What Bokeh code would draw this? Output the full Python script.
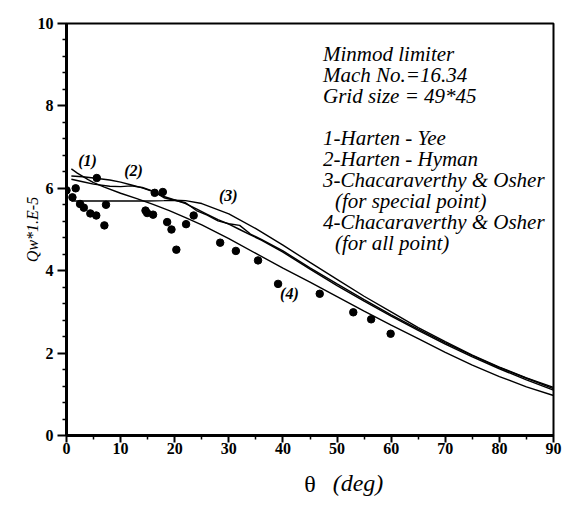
from math import pi
from bokeh.plotting import figure
from bokeh.models import Range1d, FixedTicker, Label, LinearAxis
from bokeh.embed import file_html
from bokeh.resources import INLINE

# ---- data ----
pts_x = [0.0, 1.1, 1.7, 2.5, 3.2, 4.4, 5.5, 5.6, 7.0, 7.3, 14.6, 14.9, 16.0, 16.3,
         17.8, 18.6, 19.4, 20.3, 22.1, 23.5, 28.4, 31.3, 35.4, 39.1, 46.8, 53.0, 56.3, 59.9]
pts_y = [5.95, 5.78, 6.00, 5.62, 5.53, 5.39, 5.34, 6.25, 5.10, 5.60, 5.46, 5.40, 5.36, 5.89,
         5.91, 5.18, 5.00, 4.51, 5.13, 5.34, 4.68, 4.48, 4.25, 3.68, 3.44, 2.99, 2.82, 2.47]

c1_x = [0.9, 2, 3, 4, 5, 7, 10, 13, 16, 19, 22, 25, 30, 35, 40, 45, 50, 55, 60, 65, 70, 75, 80, 85, 90]
c1_y = [6.47, 6.37, 6.29, 6.21, 6.14, 6.03, 5.88, 5.75, 5.61, 5.46, 5.29, 5.11, 4.78, 4.42, 4.06,
        3.72, 3.37, 3.02, 2.68, 2.35, 2.02, 1.71, 1.43, 1.18, 0.97]

c2_x = [0.9, 3, 5, 8, 10, 12, 14, 16, 18, 20, 22, 24, 26, 28, 30, 32, 34, 36, 40, 45, 50, 55,
        60, 65, 70, 75, 80, 85, 90]
c2_y = [6.30, 6.28, 6.25, 6.20, 6.15, 6.08, 6.01, 5.92, 5.80, 5.72, 5.63, 5.50, 5.37, 5.24, 5.13,
        5.00, 4.87, 4.74, 4.45, 4.04, 3.64, 3.26, 2.90, 2.55, 2.22, 1.91, 1.62, 1.35, 1.10]

c4_x = [0.9, 3, 5, 8, 10, 12, 14, 16, 18, 20, 22, 24, 26, 28, 30, 32, 34, 36, 40, 45, 50, 55,
        60, 65, 70, 75, 80, 85, 90]
c4_y = [6.22, 6.16, 6.10, 6.05, 6.04, 6.06, 6.02, 5.93, 5.77, 5.71, 5.65, 5.46, 5.35, 5.21, 5.14,
        5.10, 4.89, 4.76, 4.48, 4.07, 3.68, 3.30, 2.93, 2.58, 2.25, 1.94, 1.65, 1.39, 1.14]

c3_x = [0.9, 5, 10, 15, 18, 20, 22, 25, 30, 35, 40, 45, 50, 55, 60, 65, 70, 75, 80, 85, 90]
c3_y = [5.69, 5.69, 5.69, 5.69, 5.70, 5.71, 5.70, 5.63, 5.38, 5.02, 4.62, 4.20, 3.79, 3.38,
        3.00, 2.62, 2.28, 1.95, 1.66, 1.40, 1.17]

curve_tags = ["(1)", "(2)", "(3)", "(4)"]
tag_x = [3.9, 12.4, 29.9, 41.2]
tag_y = [6.67, 6.43, 5.83, 3.45]

info_lines = ["Minmod limiter", "Mach No.=16.34", "Grid size = 49*45", "",
              "1-Harten - Yee", "2-Harten - Hyman", "3-Chacaraverthy & Osher",
              "(for special point)", "4-Chacaraverthy & Osher", "(for all point)"]

x_title_symbol = "θ"
x_title_unit = "(deg)"

x_ticks = [0, 10, 20, 30, 40, 50, 60, 70, 80, 90]
x_minor = [5, 15, 25, 35, 45, 55, 65, 75, 85]
y_ticks = [0, 2, 4, 6, 8, 10]
y_minor = [0.4, 0.8, 1.2, 1.6, 2.4, 2.8, 3.2, 3.6, 4.4, 4.8, 5.2, 5.6, 6.4, 6.8, 7.2, 7.6,
           8.4, 8.8, 9.2, 9.6]

SERIF = "Liberation Serif"

p = figure(width=581, height=506, output_backend="svg", toolbar_location=None,
           x_range=Range1d(0, 90), y_range=Range1d(0, 10),
           min_border_left=66, min_border_right=28, min_border_top=23, min_border_bottom=71)
p.xgrid.visible = False
p.ygrid.visible = False
p.background_fill_color = "white"
p.outline_line_color = "black"
p.outline_line_width = 2

for ax, maj, mn in ((p.xaxis[0], x_ticks, x_minor), (p.yaxis[0], y_ticks, y_minor)):
    ax.ticker = FixedTicker(ticks=maj, minor_ticks=mn)
    ax.axis_line_width = 3
    ax.axis_line_color = "black"
    ax.major_tick_line_width = 2
    ax.minor_tick_line_width = 1.5
    ax.major_tick_in = 0
    ax.minor_tick_in = 0
    ax.minor_tick_out = 4
    ax.major_label_text_font = SERIF
    ax.major_label_text_font_style = "bold"
    ax.major_label_text_font_size = "16px"
    ax.major_label_text_color = "black"

p.xaxis[0].major_tick_out = 7
p.xaxis[0].major_label_standoff = 0
p.yaxis[0].major_tick_out = 9
p.yaxis[0].major_label_standoff = 4

p.yaxis[0].axis_label = "Qw*1.E-5"
p.yaxis[0].axis_label_text_font = SERIF
p.yaxis[0].axis_label_text_font_style = "italic"
p.yaxis[0].axis_label_text_font_size = "16px"
p.yaxis[0].axis_label_text_color = "black"
p.yaxis[0].axis_label_standoff = -6

# x-axis title: upright theta on the main axis
p.xaxis[0].axis_label = x_title_symbol
p.xaxis[0].axis_label_text_font = SERIF
p.xaxis[0].axis_label_text_font_style = "normal"
p.xaxis[0].axis_label_text_font_size = "24px"
p.xaxis[0].axis_label_text_color = "black"
p.xaxis[0].axis_label_standoff = 14

# italic unit on a bare second axis, pulled up onto the same row
unit_axis = LinearAxis(ticker=FixedTicker(ticks=[]), axis_line_color=None,
                       major_tick_line_color=None, minor_tick_line_color=None,
                       major_label_text_font_size="0px",
                       axis_label="\u00a0" * 16 + x_title_unit,
                       axis_label_text_font=SERIF, axis_label_text_font_style="italic",
                       axis_label_text_font_size="24px", axis_label_text_color="black",
                       axis_label_standoff=-30)
p.add_layout(unit_axis, "below")

for cx, cy in ((c1_x, c1_y), (c2_x, c2_y), (c3_x, c3_y), (c4_x, c4_y)):
    p.line(cx, cy, line_color="black", line_width=1.4)

p.scatter(pts_x, pts_y, size=7.5, fill_color="black", line_color="black")

for t, tx, ty in zip(curve_tags, tag_x, tag_y):
    p.add_layout(Label(x=tx, y=ty, text=t, text_font=SERIF, text_font_style="bold italic",
                       text_font_size="16px", text_align="center", text_baseline="middle",
                       text_color="black"))

# info block
y0 = 9.27
dy = 21.1 / 41.2
for i, s in enumerate(info_lines):
    if not s:
        continue
    xs = 49.6 if s.startswith("(") else 47.4
    p.add_layout(Label(x=xs, y=y0 - i * dy, text=s, text_font=SERIF, text_font_style="italic",
                       text_font_size="21px", text_align="left", text_baseline="middle",
                       text_color="black"))

open("out.html", "w").write(file_html(p, INLINE))
